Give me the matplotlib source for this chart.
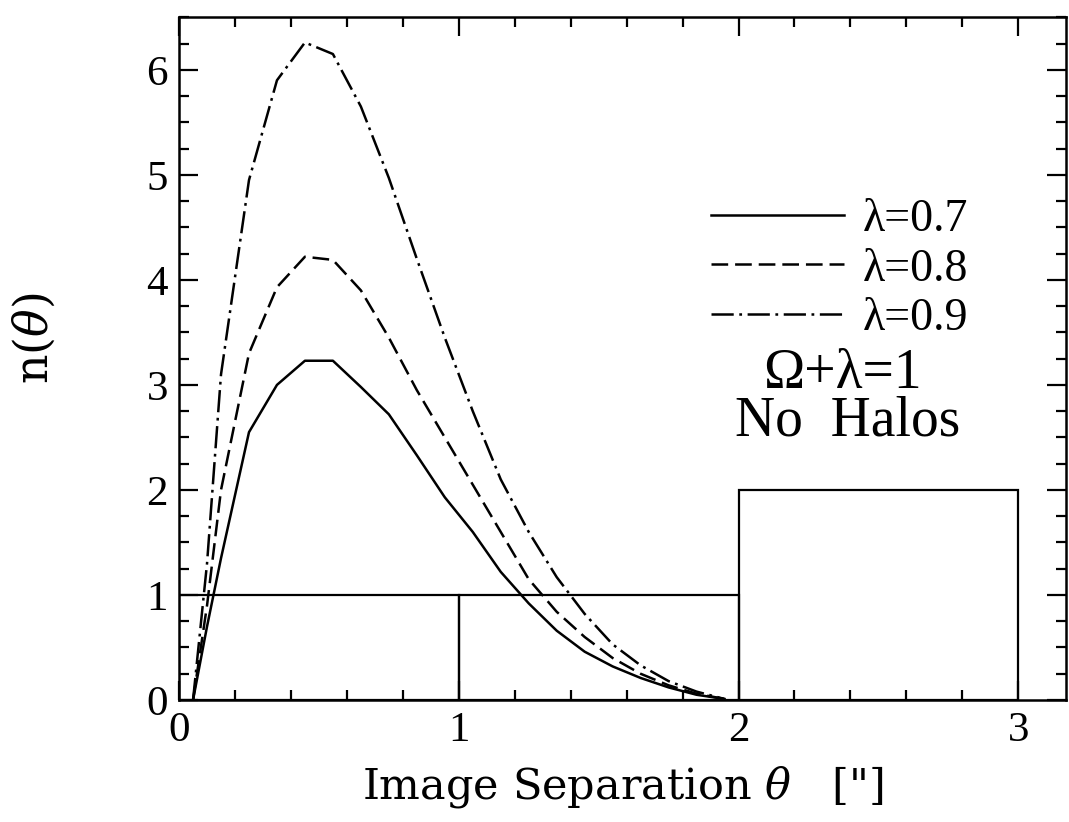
import matplotlib
matplotlib.use("Agg")
import matplotlib.pyplot as plt
from matplotlib.ticker import MultipleLocator

plt.rcParams["font.family"] = ["Liberation Serif", "DejaVu Serif"]
plt.rcParams["mathtext.fontset"] = "dejavuserif"
plt.rcParams["lines.scale_dashes"] = False

# predicted distributions n(theta) for three lambda values
theta = [0.05, 0.10, 0.15, 0.25, 0.35, 0.45, 0.55, 0.65, 0.75, 0.85, 0.95,
         1.05, 1.15, 1.25, 1.35, 1.45, 1.55, 1.65, 1.75, 1.85, 1.95]
n_07 = [0.0, 0.70, 1.35, 2.55, 3.00, 3.23, 3.23, 2.98, 2.72, 2.33, 1.93,
        1.60, 1.22, 0.92, 0.66, 0.46, 0.32, 0.21, 0.12, 0.05, 0.01]
n_08 = [0.0, 0.90, 2.00, 3.30, 3.93, 4.22, 4.19, 3.90, 3.45, 2.95, 2.50,
        2.05, 1.60, 1.15, 0.84, 0.60, 0.40, 0.25, 0.14, 0.06, 0.01]
n_09 = [0.0, 1.30, 3.10, 4.95, 5.90, 6.26, 6.15, 5.65, 4.97, 4.20, 3.45,
        2.75, 2.10, 1.60, 1.17, 0.82, 0.53, 0.33, 0.18, 0.08, 0.01]

# observed lens histogram
bin_left = [0, 1, 2]
bin_count = [1, 1, 2]

fig = plt.figure(figsize=(10.69, 8.22), dpi=100)
ax = fig.add_axes([0.1675, 0.1484, 0.8295, 0.8306])

ax.bar(bin_left, bin_count, width=1, align="edge", fill=False,
       edgecolor="black", linewidth=1.6)

ax.plot(theta, n_07, color="black", lw=1.8, ls="-", label="λ=0.7")
ax.plot(theta, n_08, color="black", lw=1.8, ls=(0, (12, 5)), label="λ=0.8")
ax.plot(theta, n_09, color="black", lw=1.8, ls=(0, (16, 4, 2, 4)), label="λ=0.9")

ax.set_xlim(0, 3.17)
ax.set_ylim(0, 6.5)
ax.xaxis.set_major_locator(MultipleLocator(1))
ax.xaxis.set_minor_locator(MultipleLocator(0.2))
ax.yaxis.set_major_locator(MultipleLocator(1))
ax.yaxis.set_minor_locator(MultipleLocator(0.25))
ax.tick_params(which="both", direction="in", top=True, right=True, width=1.6)
ax.tick_params(which="major", length=14, labelsize=31, pad=8)
ax.tick_params(which="minor", length=7)
for s in ax.spines.values():
    s.set_linewidth(1.8)

ax.set_xlabel(r'Image Separation $\theta$   ["]', fontsize=31,
              family="DejaVu Serif", labelpad=10)
ax.set_ylabel(r"n($\theta$)", fontsize=33, family="DejaVu Serif")
ax.yaxis.set_label_coords(-0.137, 0.53)

ax.legend(loc="upper left", bbox_to_anchor=(0.6, 0.735), frameon=False,
          fontsize=33, handlelength=2.9, handletextpad=0.4, labelspacing=0.16,
          borderpad=0, borderaxespad=0)
ax.text(2.37, 3.1, "Ω+λ=1", fontsize=40, ha="center", va="center")
ax.text(2.39, 2.65, "No  Halos", fontsize=40, ha="center", va="center")

fig.savefig("out.png", dpi=100)
